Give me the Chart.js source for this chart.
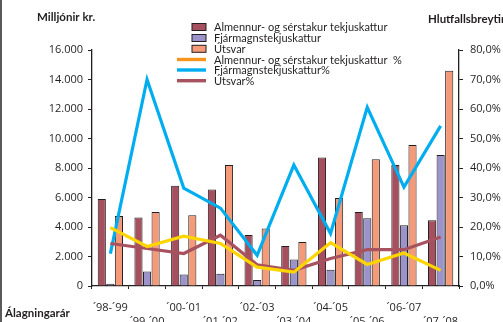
<!DOCTYPE html>
<html>
<head>
<meta charset="utf-8">
<script src="https://cdn.jsdelivr.net/npm/chart.js@4.4.1/dist/chart.umd.min.js"></script>
<style>
  html, body { margin: 0; padding: 0; background: #fff; }
  #wrap { width: 503px; height: 322px; position: relative; }
</style>
</head>
<body>
<div id="wrap"><canvas id="c" width="503" height="322"></canvas></div>
<script>
// Álagningarár (assessment years)
const years = ['´98-´99', '´99-´00', '´00-´01', '´01-´02', '´02-´03',
               '´03-´04', '´04-´05', '´05-´06', '´06-´07', '´07-´08'];

// Milljónir kr.
const almennur = [5900, 4640, 6790, 6540, 3450, 2710, 8720, 5020, 8200, 4460];
const fjarmagn = [150, 990, 780, 830, 400, 1800, 1100, 4590, 4120, 8880];
const utsvar   = [4750, 5020, 4800, 8200, 3900, 2980, 5970, 8600, 9560, 14600];

// Hlutfallsbreyting (%)
const almennurPct = [19.8, 13.4, 16.9, 14.4, 6.4, 4.7, 14.7, 7.3, 11.2, 5.3];
const fjarmagnPct = [11.0, 70.0, 33.2, 26.4, 10.4, 41.0, 17.8, 60.6, 33.5, 54.3];
const utsvarPct   = [14.4, 12.7, 11.0, 17.2, 7.2, 5.3, 9.3, 12.3, 12.3, 16.6];

const leftTicks = [0, 2000, 4000, 6000, 8000, 10000, 12000, 14000, 16000];
const rightTicks = [0, 10, 20, 30, 40, 50, 60, 70, 80];

const INK = '#231F20';
const FONT = "'Open Sans', 'Liberation Sans', sans-serif";
const LABEL_FONT = "Lato, 'Open Sans', sans-serif";

// Alternate the year labels between two rows so they do not collide
const xLabels = years.map((y, i) => (i % 2 === 0 ? [y, ''] : ['', y]));

const fmtKr = v => String(v).replace(/\B(?=(\d{3})+(?!\d))/g, '.');
const fmtPct = v => v.toFixed(1).replace('.', ',') + '%';

const barBase = { type: 'bar', yAxisID: 'y', borderColor: INK, borderWidth: 1, order: 4 };
const lineBase = { type: 'line', yAxisID: 'y1', fill: false, tension: 0,
                   pointRadius: 0, borderWidth: 3.2, borderJoinStyle: 'miter' };

// Titles, legend and frame drawn straight onto the canvas
const decorations = {
  id: 'decorations',
  beforeDraw(chart) {
    const ctx = chart.ctx;
    ctx.save();
    ctx.fillStyle = '#fff';
    ctx.fillRect(0, 0, chart.width, chart.height);
    ctx.fillStyle = '#5a5a5a';
    ctx.fillRect(0, 0, 2, chart.height);
    ctx.restore();
  },
  afterDraw(chart) {
    const ctx = chart.ctx;
    ctx.save();
    ctx.fillStyle = INK;
    ctx.textBaseline = 'middle';
    ctx.font = `bold 11.5px ${LABEL_FONT}`;
    ctx.textAlign = 'left';
    ctx.fillText('Milljónir kr.', 37, 17);
    ctx.fillText('Hlutfallsbreyting', 428, 19);
    ctx.fillText('Álagningarár', 5, 313);

    // legend
    const rows = [27, 38, 48.8, 59.5, 70, 80.7];
    ctx.font = `11px ${LABEL_FONT}`;
    chart.data.datasets.forEach((ds, i) => {
      const y = rows[i];
      if (ds.type === 'bar') {
        ctx.fillStyle = ds.backgroundColor;
        ctx.fillRect(192, y - 3.5, 14, 7);
        ctx.strokeStyle = INK;
        ctx.lineWidth = 1;
        ctx.strokeRect(192, y - 3.5, 14, 7);
      } else {
        ctx.fillStyle = ds.legendColor || ds.borderColor;
        ctx.fillRect(177, y - 1.7, 29, 3.4);
      }
      ctx.fillStyle = INK;
      ctx.fillText(ds.label, 214, y + 0.5);
    });
    ctx.restore();
  }
};

new Chart(document.getElementById('c'), {
  data: {
    labels: xLabels,
    datasets: [
      { ...barBase, label: 'Almennur- og sérstakur tekjuskattur', data: almennur, backgroundColor: '#A54F5F' },
      { ...barBase, label: 'Fjármagnstekjuskattur', data: fjarmagn, backgroundColor: '#9D93CB' },
      { ...barBase, label: 'Útsvar', data: utsvar, backgroundColor: '#F59A79' },
      { ...lineBase, label: 'Almennur- og sérstakur tekjuskattur  %', data: almennurPct,
        borderColor: '#FFD500', legendColor: '#F7941D', order: 0 },
      { ...lineBase, label: 'Fjármagnstekjuskattur%', data: fjarmagnPct,
        borderColor: '#00AEEF', order: 2 },
      { ...lineBase, label: 'Útsvar%', data: utsvarPct,
        borderColor: '#A8525F', order: 1 }
    ]
  },
  options: {
    responsive: false,
    animation: false,
    devicePixelRatio: 1,
    layout: { padding: { top: 50, left: 0, right: 0, bottom: 0 } },
    datasets: { bar: { categoryPercentage: 0.7, barPercentage: 0.95 } },
    plugins: { legend: { display: false }, tooltip: { enabled: false } },
    scales: {
      x: {
        offset: true,
        grid: { drawOnChartArea: false, drawTicks: true, tickLength: 3, color: INK, offset: true },
        border: { display: true, color: INK, width: 1.3 },
        ticks: { color: INK, font: { family: FONT, size: 11, lineHeight: 1.25 },
                 padding: 12, autoSkip: false, maxRotation: 0, minRotation: 0 },
        afterFit(scale) { scale.height = 36; }
      },
      y: {
        position: 'left',
        min: 0, max: 16000,
        afterBuildTicks(scale) { scale.ticks = leftTicks.map(v => ({ value: v })); },
        grid: { drawOnChartArea: false, drawTicks: true, tickLength: 4, color: INK },
        border: { display: true, color: INK, width: 1.3 },
        ticks: { color: INK, font: { family: FONT, size: 11 }, padding: 5,
                 callback: v => fmtKr(v) },
        afterFit(scale) { scale.width = 92; }
      },
      y1: {
        position: 'right',
        min: 0, max: 80,
        afterBuildTicks(scale) { scale.ticks = rightTicks.map(v => ({ value: v })); },
        grid: { drawOnChartArea: false, drawTicks: true, tickLength: 4, color: INK },
        border: { display: true, color: INK, width: 1.3 },
        ticks: { color: INK, font: { family: FONT, size: 11 }, padding: 7,
                 callback: v => fmtPct(v) },
        afterFit(scale) { scale.width = 44; }
      }
    }
  },
  plugins: [decorations]
});
</script>
</body>
</html>
